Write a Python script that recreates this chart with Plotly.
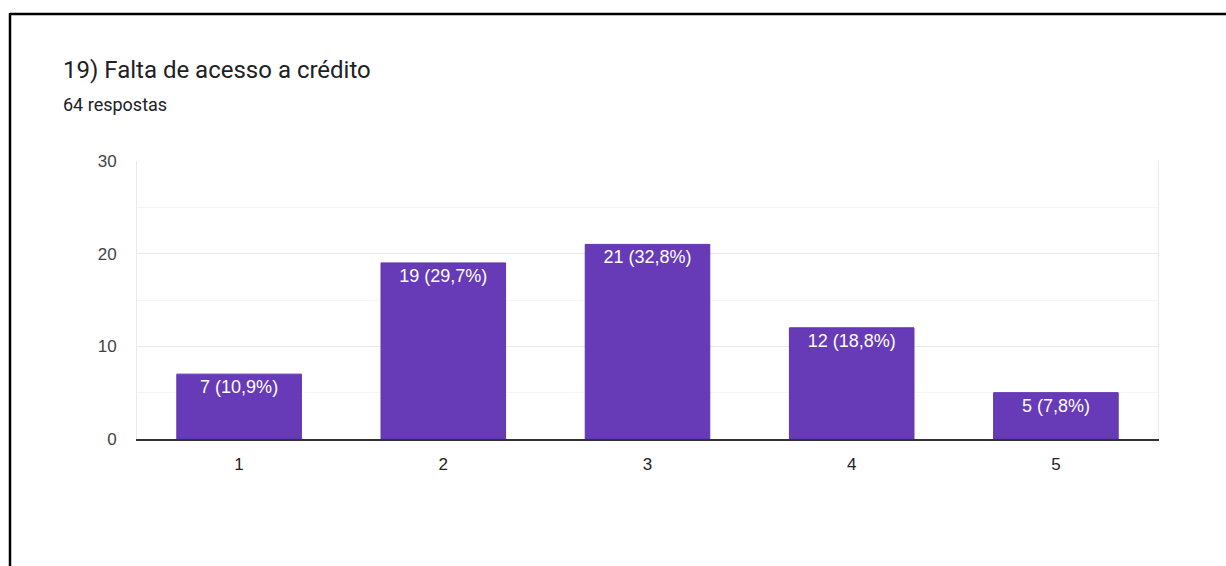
import plotly.graph_objects as go

# Survey question 19: answers on a 1–5 scale
categories = ["1", "2", "3", "4", "5"]
counts = [7, 19, 21, 12, 5]
total_responses = 64
y_tick_values = [0, 10, 20, 30]

title_text = "19) Falta de acesso a crédito"
subtitle_text = f"{total_responses} respostas"

labels = [
    f"{c} ({c / total_responses * 100:.1f}%)".replace(".", ",") for c in counts
]

W, H = 1226, 566
L, R, T, B = 137, 68, 161, 127
PW, PH = W - L - R, H - T - B


def px_x(x):
    return (x - L) / PW


def px_y(y):
    return (H - B - y) / PH


fig = go.Figure(
    go.Bar(
        x=categories,
        y=counts,
        text=labels,
        textposition="inside",
        insidetextanchor="end",
        textfont=dict(family="Arial, Liberation Sans", size=18, color="white"),
        marker=dict(color="#673ab7", line=dict(color="#5e35b1", width=1)),
        hoverinfo="skip",
    )
)

fig.update_layout(
    width=W,
    height=H,
    margin=dict(l=L, r=R, t=T, b=B),
    paper_bgcolor="white",
    plot_bgcolor="white",
    showlegend=False,
    bargap=0.39,
    uniformtext=dict(minsize=18, mode="show"),
    xaxis=dict(
        showgrid=False,
        showline=True,
        linecolor="#333333",
        linewidth=1.5,
        ticks="",
        tickfont=dict(family="Arial, Liberation Sans", size=17, color="#222222"),
        ticklabelstandoff=9,
    ),
    yaxis=dict(
        range=[0, 30],
        tickvals=y_tick_values,
        showgrid=True,
        gridcolor="#ebebeb",
        gridwidth=1,
        zeroline=False,
        showline=True,
        linecolor="#ebebeb",
        mirror=True,
        ticks="",
        ticklabelstandoff=16,
        tickfont=dict(family="Arial, Liberation Sans", size=17, color="#444444"),
        minor=dict(dtick=5, showgrid=True, gridcolor="#f5f5f5", gridwidth=1),
    ),
    annotations=[
        dict(
            text=title_text,
            x=px_x(61), y=px_y(70), xref="paper", yref="paper",
            xanchor="left", yanchor="middle", showarrow=False,
            font=dict(family="Roboto", size=24, color="#202124"),
        ),
        dict(
            text=subtitle_text,
            x=px_x(61), y=px_y(105), xref="paper", yref="paper",
            xanchor="left", yanchor="middle", showarrow=False,
            font=dict(family="Roboto", size=18, color="#202124"),
        ),
    ],
    shapes=[
        # frame around the card: top and left edges
        dict(type="line", xref="paper", yref="paper",
             x0=px_x(10), x1=px_x(W + 5), y0=px_y(14), y1=px_y(14),
             line=dict(color="black", width=2.5)),
        dict(type="line", xref="paper", yref="paper",
             x0=px_x(10), x1=px_x(10), y0=px_y(13), y1=px_y(H + 5),
             line=dict(color="black", width=2.5)),
    ],
)

fig.write_html("out.html")
